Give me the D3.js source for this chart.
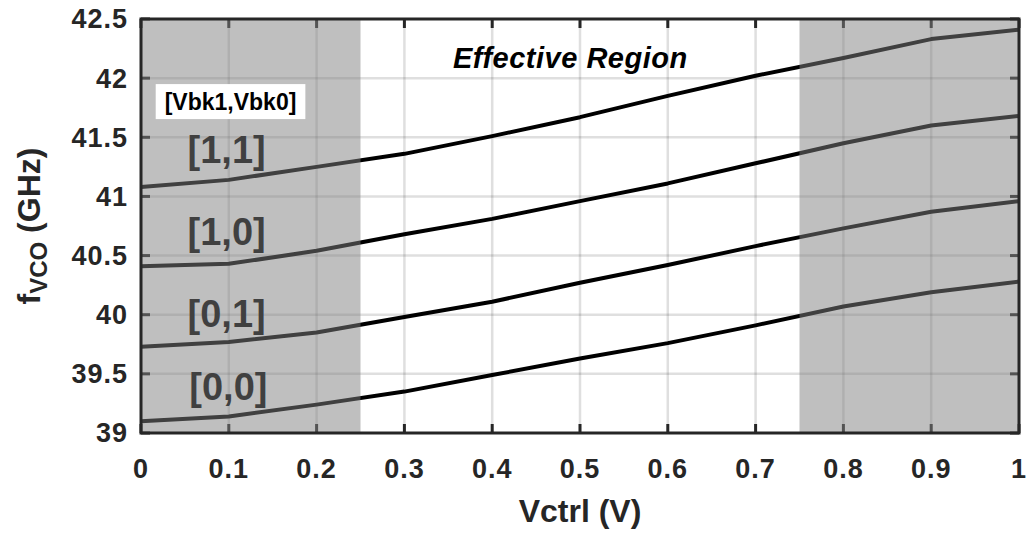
<!DOCTYPE html>
<html>
<head>
<meta charset="utf-8">
<script src="https://cdn.jsdelivr.net/npm/d3@7"></script>
<style>
  body { margin: 0; background: #fff; }
  text { font-family: "Liberation Sans", Arial, sans-serif; fill: #262626; }
</style>
</head>
<body>
<div id="chart"></div>
<script>
// control voltage sweep (V)
const vctrl = [0, 0.1, 0.2, 0.3, 0.4, 0.5, 0.6, 0.7, 0.8, 0.9, 1.0];

// fVCO (GHz) per band setting [Vbk1,Vbk0]
const f11 = [41.08, 41.14, 41.25, 41.36, 41.51, 41.67, 41.85, 42.02, 42.17, 42.33, 42.41];
const f10 = [40.41, 40.43, 40.54, 40.68, 40.81, 40.96, 41.11, 41.28, 41.45, 41.60, 41.68];
const f01 = [39.73, 39.77, 39.85, 39.98, 40.11, 40.27, 40.42, 40.58, 40.73, 40.87, 40.96];
const f00 = [39.10, 39.14, 39.24, 39.35, 39.49, 39.63, 39.76, 39.91, 40.07, 40.19, 40.28];

const bandNames = ["[1,1]", "[1,0]", "[0,1]", "[0,0]"];
const bandLabelX = [0.053, 0.053, 0.053, 0.055];
const bandLabelY = [41.28, 40.59, 39.90, 39.28];

// shaded (non-effective) ranges
const shadedRanges = [[0, 0.25], [0.75, 1]];

const xTicks = [0, 0.1, 0.2, 0.3, 0.4, 0.5, 0.6, 0.7, 0.8, 0.9, 1];
const yTicks = [39, 39.5, 40, 40.5, 41, 41.5, 42, 42.5];

const width = 1030, height = 534;
const margin = {top: 19, right: 11, bottom: 101, left: 141};
const plotW = width - margin.left - margin.right;
const plotH = height - margin.top - margin.bottom;

const svg = d3.select("#chart").append("svg")
    .attr("width", width)
    .attr("height", height);

const g = svg.append("g")
    .attr("transform", `translate(${margin.left},${margin.top})`);

const x = d3.scaleLinear().domain([0, 1]).range([0, plotW]);
const y = d3.scaleLinear().domain([39, 42.5]).range([plotH, 0]);

// grid lines (semi transparent, like MATLAB)
g.append("g").selectAll("line").data(xTicks.slice(1, -1)).join("line")
    .attr("x1", d => x(d)).attr("x2", d => x(d))
    .attr("y1", 0).attr("y2", plotH)
    .attr("stroke", "#262626").attr("stroke-opacity", 0.15).attr("stroke-width", 2.5);
g.append("g").selectAll("line").data(yTicks.slice(1, -1)).join("line")
    .attr("x1", 0).attr("x2", plotW)
    .attr("y1", d => y(d)).attr("y2", d => y(d))
    .attr("stroke", "#262626").attr("stroke-opacity", 0.15).attr("stroke-width", 2.5);

// curves
const line = d3.line()
    .x((d, i) => x(vctrl[i]))
    .y(d => y(d));

g.append("g").selectAll("path").data([f11, f10, f01, f00]).join("path")
    .attr("d", line)
    .attr("fill", "none")
    .attr("stroke", "#000")
    .attr("stroke-width", 4)
    .attr("stroke-linejoin", "round");

// band labels
g.append("g").selectAll("text").data(bandNames).join("text")
    .attr("x", (d, i) => x(bandLabelX[i]))
    .attr("y", (d, i) => y(bandLabelY[i]))
    .attr("font-size", 38)
    .attr("font-weight", "bold")
    .style("fill", "#000")
    .text(d => d);

// inner ticks on all four sides
const tickLen = 9;
const ticks = g.append("g").attr("stroke", "#262626").attr("stroke-width", 3);
xTicks.forEach(t => {
    ticks.append("line").attr("x1", x(t)).attr("x2", x(t)).attr("y1", plotH).attr("y2", plotH - tickLen);
    ticks.append("line").attr("x1", x(t)).attr("x2", x(t)).attr("y1", 0).attr("y2", tickLen);
});
yTicks.forEach(t => {
    ticks.append("line").attr("x1", 0).attr("x2", tickLen).attr("y1", y(t)).attr("y2", y(t));
    ticks.append("line").attr("x1", plotW).attr("x2", plotW - tickLen).attr("y1", y(t)).attr("y2", y(t));
});

// shaded patches on top (50% gray, half transparent)
g.append("g").selectAll("rect").data(shadedRanges).join("rect")
    .attr("x", d => x(d[0]))
    .attr("width", d => x(d[1]) - x(d[0]))
    .attr("y", 0)
    .attr("height", plotH)
    .attr("fill", "#808080")
    .attr("fill-opacity", 0.5);

// legend title box
const legText = g.append("text")
    .attr("x", x(0.027))
    .attr("y", y(41.73))
    .attr("font-size", 23)
    .attr("font-weight", "bold")
    .style("fill", "#000")
    .text("[Vbk1,Vbk0]");
const bb = legText.node().getBBox();
g.insert("rect", () => legText.node())
    .attr("x", bb.x - 9)
    .attr("y", y(41.73) - 26)
    .attr("width", bb.width + 18)
    .attr("height", 35)
    .attr("fill", "#fff");

g.append("text")
    .attr("x", x(0.489))
    .attr("y", y(42.085))
    .attr("text-anchor", "middle")
    .attr("font-size", 29)
    .attr("font-weight", "bold")
    .attr("font-style", "italic")
    .attr("letter-spacing", 0.5)
    .style("fill", "#000")
    .text("Effective Region");

// axis frame
g.append("rect")
    .attr("x", 0).attr("y", 0)
    .attr("width", plotW).attr("height", plotH)
    .attr("fill", "none")
    .attr("stroke", "#262626")
    .attr("stroke-width", 3);

// tick labels
g.append("g").selectAll("text").data(xTicks).join("text")
    .attr("x", d => x(d))
    .attr("y", plotH + 45)
    .attr("text-anchor", "middle")
    .attr("font-size", 27)
    .attr("font-weight", "bold")
    .attr("letter-spacing", 1)
    .text(d => d3.format("~g")(d));

g.append("g").selectAll("text").data(yTicks).join("text")
    .attr("x", -13)
    .attr("y", d => y(d))
    .attr("dy", "0.35em")
    .attr("text-anchor", "end")
    .attr("font-size", 27)
    .attr("font-weight", "bold")
    .attr("letter-spacing", 1)
    .text(d => d3.format("~g")(d));

// axis titles
g.append("text")
    .attr("x", plotW / 2)
    .attr("y", plotH + 89)
    .attr("text-anchor", "middle")
    .attr("font-size", 32)
    .attr("font-weight", "bold")
    .text("Vctrl (V)");

const yTitle = svg.append("text")
    .attr("transform", `translate(40,${margin.top + plotH / 2}) rotate(-90)`)
    .attr("text-anchor", "middle")
    .attr("font-size", 32)
    .attr("font-weight", "bold");
yTitle.append("tspan").text("f");
yTitle.append("tspan").attr("font-size", 24).attr("dy", 7).text("VCO");
yTitle.append("tspan").attr("dy", -7).text(" (GHz)");
</script>
</body>
</html>
